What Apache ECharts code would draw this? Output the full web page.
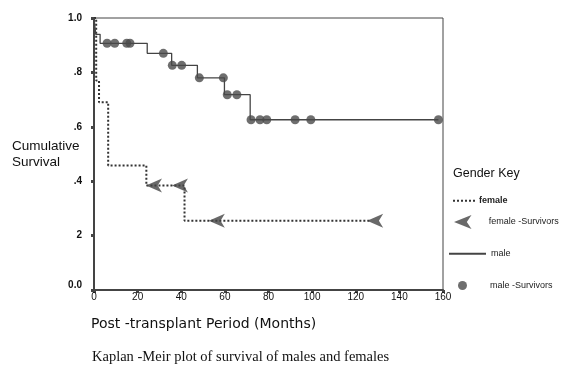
<!DOCTYPE html>
<html>
<head>
<meta charset="utf-8">
<script src="https://cdn.jsdelivr.net/npm/echarts@6/dist/echarts.min.js"></script>
<style>
html,body{margin:0;padding:0;background:#fff;}
#chart{width:573px;height:381px;}
</style>
</head>
<body>
<div id="chart"></div>
<script>
// ---- data ----
var maleTimes = [0, 0.8, 2.8, 24.4, 35.6, 47.4, 59.8, 71.6, 157.9];
var maleSurv  = [1.0, 0.94, 0.907, 0.87, 0.826, 0.78, 0.718, 0.626, 0.626];
var maleCensorTimes = [6, 9.5, 15, 16.5, 31.8, 35.9, 40.2, 48.3, 59.3, 61.1, 65.5, 72, 76.1, 79.2, 92.2, 99.4, 157.9];
var maleCensorSurv  = [0.907, 0.907, 0.907, 0.907, 0.87, 0.826, 0.826, 0.78, 0.78, 0.718, 0.718, 0.626, 0.626, 0.626, 0.626, 0.626, 0.626];

var femaleTimes = [0, 1, 2.3, 6.5, 24, 41.5, 127];
var femaleSurv  = [1.0, 0.77, 0.69, 0.458, 0.384, 0.255, 0.255];
var femaleCensorTimes = [27.5, 39.4, 56.3, 128.9];
var femaleCensorSurv  = [0.384, 0.384, 0.255, 0.255];

var xTicks = [0, 20, 40, 60, 80, 100, 120, 140, 160];
var yTickLabels = ['0.0', '2', '.4', '.6', '.8', '1.0'];

function zip(a, b) { return a.map(function (v, i) { return [v, b[i]]; }); }

var chart = echarts.init(document.getElementById('chart'), null, {renderer: 'canvas'});
var sans = 'Liberation Sans, Arial, sans-serif';
var ink = '#222';
var leftArrow = 'path://M0,6 L15,0 L11,6 L15,12 Z';
var hiddenSym = {color: 'rgba(0,0,0,0)', borderColor: 'rgba(0,0,0,0)', borderWidth: 0};

var option = {
  backgroundColor: '#ffffff',
  animation: false,
  title: [
    {
      text: 'Kaplan -Meir plot of survival of males and females',
      left: 87, top: 345,
      textStyle: {fontFamily: 'Liberation Serif, Times New Roman, serif', fontSize: 14.5, fontWeight: 'normal', color: '#111'}
    },
    {
      text: 'Gender Key',
      left: 448, top: 162,
      textStyle: {fontFamily: sans, fontSize: 12.5, fontWeight: 'normal', color: '#111'}
    }
  ],
  legend: [
    {data: ['female'], orient: 'vertical', left: 447, top: 191, itemWidth: 24, itemHeight: 12,
     itemStyle: hiddenSym,
     textStyle: {fontFamily: sans, fontSize: 9, fontWeight: 'bold', color: ink, padding: [0,0,0,-3]}},
    {data: ['female -Survivors'], orient: 'vertical', left: 449, top: 210, itemWidth: 20, itemHeight: 14,
     textStyle: {fontFamily: sans, fontSize: 9, color: ink, padding: [4,0,0,11]}},
    {data: ['male'], orient: 'vertical', left: 443, top: 244, itemWidth: 37, itemHeight: 12,
     itemStyle: hiddenSym,
     textStyle: {fontFamily: sans, fontSize: 9, color: ink, padding: [0,0,0,0]}},
    {data: ['male -Survivors'], orient: 'vertical', left: 453, top: 276, itemWidth: 9, itemHeight: 9,
     textStyle: {fontFamily: sans, fontSize: 9, color: ink, padding: [0,0,4,18]}}
  ],
  grid: {
    left: 94, right: 130, top: 18, bottom: 91,
    outerBoundsMode: 'none', containLabel: false,
    show: true, borderColor: '#444', borderWidth: 1, backgroundColor: 'transparent'
  },
  xAxis: {
    type: 'value', min: 0, max: 160, interval: 20,
    name: 'Post -transplant Period (Months)',
    nameLocation: 'start', nameGap: 3,
    nameTextStyle: {fontFamily: 'DejaVu Sans, sans-serif', fontSize: 14, color: '#111', align: 'left', verticalAlign: 'top', padding: [27,0,0,0]},
    axisLine: {show: true, onZero: false, lineStyle: {color: '#444', width: 2}},
    axisTick: {show: true, length: 3, lineStyle: {color: '#444', width: 3}},
    axisLabel: {fontFamily: sans, fontSize: 10, color: '#111', margin: 2,
      formatter: function (v) { return xTicks.indexOf(v) >= 0 ? String(v) : ''; }},
    splitLine: {show: false}
  },
  yAxis: {
    type: 'value', min: 0, max: 1, interval: 0.2,
    name: 'Cumulative\nSurvival',
    nameLocation: 'middle', nameRotate: 0, nameGap: 82, nameMoveOverlap: false,
    nameTextStyle: {fontFamily: sans, fontSize: 13.5, color: '#111', align: 'left', verticalAlign: 'middle', lineHeight: 16, padding: [0,0,17,0]},
    axisLine: {show: true, lineStyle: {color: '#444', width: 2}},
    axisTick: {show: true, length: 3, lineStyle: {color: '#444', width: 3}},
    axisLabel: {fontFamily: sans, fontSize: 10, fontWeight: 'bold', color: '#111', margin: 12,
      formatter: function (v) {
        var i = Math.round(v * 5);
        return i === 0 ? '{z|' + yTickLabels[0] + '}' : yTickLabels[i];
      },
      rich: {z: {fontFamily: sans, fontSize: 10, fontWeight: 'bold', color: '#111', padding: [0,0,10,0]}}
    },
    splitLine: {show: false}
  },
  series: [
    {
      name: 'female', type: 'line', step: 'end', symbol: 'none',
      data: zip(femaleTimes, femaleSurv),
      lineStyle: {color: '#333', width: 2, type: 'dotted'},
      itemStyle: {color: '#333'}, z: 3
    },
    {
      name: 'female -Survivors', type: 'scatter', symbol: leftArrow, symbolSize: [16, 14],
      data: zip(femaleCensorTimes, femaleCensorSurv),
      itemStyle: {color: '#444'}, z: 4
    },
    {
      name: 'male', type: 'line', step: 'end', symbol: 'none',
      data: zip(maleTimes, maleSurv),
      lineStyle: {color: '#444', width: 1.3, type: 'solid'},
      itemStyle: {color: '#444'}, z: 3
    },
    {
      name: 'male -Survivors', type: 'scatter', symbol: 'circle', symbolSize: 9,
      data: zip(maleCensorTimes, maleCensorSurv),
      itemStyle: {color: '#4a4a4a'}, z: 4
    }
  ]
};
chart.setOption(option);
</script>
</body>
</html>
